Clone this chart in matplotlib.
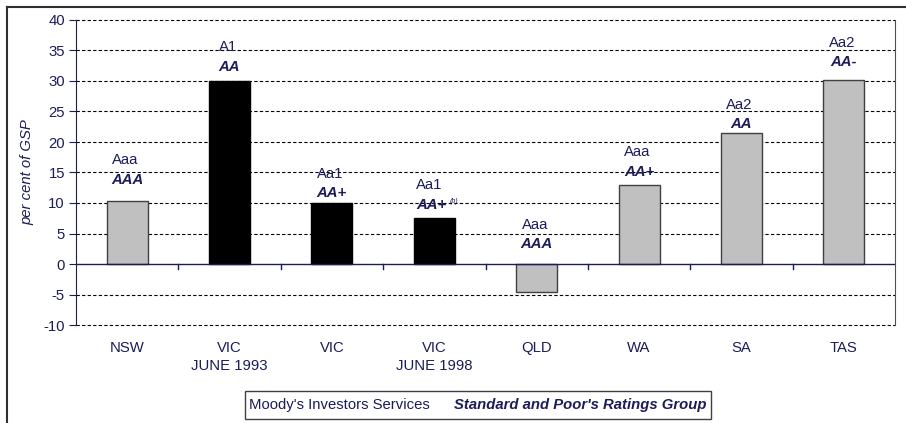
import matplotlib.pyplot as plt
from matplotlib.patches import Rectangle
from matplotlib.lines import Line2D
import matplotlib.transforms as mtransforms

plt.rcParams['font.family'] = ['Liberation Sans', 'DejaVu Sans']

states = ['NSW', 'VIC\nJUNE 1993', 'VIC', 'VIC\nJUNE 1998', 'QLD', 'WA', 'SA', 'TAS']
debt = [10.4, 30.0, 10.0, 7.6, -4.6, 13.0, 21.4, 30.1]
moodys = ['Aaa', 'A1', 'Aa1', 'Aa1', 'Aaa', 'Aaa', 'Aa2', 'Aa2']
sp = ['AAA', 'AA', 'AA+', 'AA+', 'AAA', 'AA+', 'AA', 'AA-']
black_bar = [False, True, True, True, False, False, False, False]
yticks = list(range(-10, 45, 5))

navy = '#1c1c5a'
fs = 10.7
W, H = 906, 423


def px(x, y):
    # pixel position -> figure fraction
    return x / W, 1 - y / H


fig = plt.figure(figsize=(W / 100, H / 100), dpi=100)
ax = fig.add_axes([76 / W, 1 - 325 / H, (895 - 76) / W, (325 - 20) / H])

colors = ['black' if b else '#c0c0c0' for b in black_bar]
edges = ['black' if b else '#404040' for b in black_bar]
x = list(range(len(states)))
ax.bar(x, debt, width=0.4, color=colors, edgecolor=edges, linewidth=1.0, zorder=3)

ax.set_xlim(-0.5, len(states) - 0.5)
ax.set_ylim(-10, 40)
ax.set_yticks(yticks)
ax.set_yticklabels([str(t) for t in yticks], fontsize=fs, color=navy)
ax.tick_params(axis='y', direction='out', length=5, color=navy, pad=3)
for t in yticks:
    if t != 0:
        ax.axhline(t, color='black', linestyle=(0, (3, 2)), linewidth=0.8,
                   zorder=1, clip_on=False)
ax.axhline(0, color=navy, linewidth=1.0, zorder=4)

ax.set_xticks([])
for s in ['top', 'bottom']:
    ax.spines[s].set_visible(False)
ax.spines['left'].set_color(navy)
ax.spines['left'].set_zorder(5)
ax.spines['right'].set_color('#505050')

# category boundary ticks hanging below the zero line
for k in range(1, len(states)):
    ax.plot([k - 0.5, k - 0.5], [0, -5 * 50 / 305], color=navy, lw=1,
            zorder=4, clip_on=False)

# category labels at the bottom
lab_trans = mtransforms.blended_transform_factory(ax.transData, fig.transFigure)
for i, name in enumerate(states):
    ax.text(i, px(0, 341)[1], name, transform=lab_trans, ha='center', va='top',
            fontsize=fs, color=navy, linespacing=1.4)

# rating labels above bars
sp_off = [21, 14, 10, 13, 20, 13, 9, 18]
for i, v in enumerate(debt):
    base = max(v, 0)
    dx = -3 if i == 3 else 0
    ax.annotate(sp[i], (i, base), xytext=(dx, sp_off[i]), textcoords='offset pixels',
                ha='center', va='center', fontsize=fs, color=navy,
                fontweight='bold', fontstyle='italic', zorder=5)
    ax.annotate(moodys[i], (i, base), xytext=(-5 if i == 3 else -2, sp_off[i] + 19.5),
                textcoords='offset pixels', ha='center', va='center',
                fontsize=fs, color=navy, zorder=5)
ax.annotate('(b)', (3, debt[3]), xytext=(15, sp_off[3] + 3), textcoords='offset pixels',
            ha='left', va='center', fontsize=5, color=navy, fontstyle='italic', zorder=5)

ax.set_ylabel('per cent of GSP', fontsize=fs, color=navy, fontstyle='italic')
ax.yaxis.set_label_coords((34 - 76) / (895 - 76), 0.5)

# outer frame (cut by the image edge)
fig.add_artist(Line2D([7 / W, 7 / W], [0, px(0, 7)[1]], color='#303030', lw=1.5))
fig.add_artist(Line2D([7 / W, 1], [px(0, 7)[1], px(0, 7)[1]], color='#303030', lw=1.5))

# legend box
lx, ly = px(245, 419)
fig.add_artist(Rectangle((lx, ly), 466 / W, 28 / H, transform=fig.transFigure,
                         facecolor='white', edgecolor='#404040', lw=1.0))
fig.text(*px(249, 405), "Moody's Investors Services", ha='left', va='center',
         fontsize=fs, color=navy)
fig.text(*px(454, 405), "Standard and Poor's Ratings Group", ha='left', va='center',
         fontsize=fs, color=navy, fontweight='bold', fontstyle='italic')

fig.savefig('out.png', dpi=100)
